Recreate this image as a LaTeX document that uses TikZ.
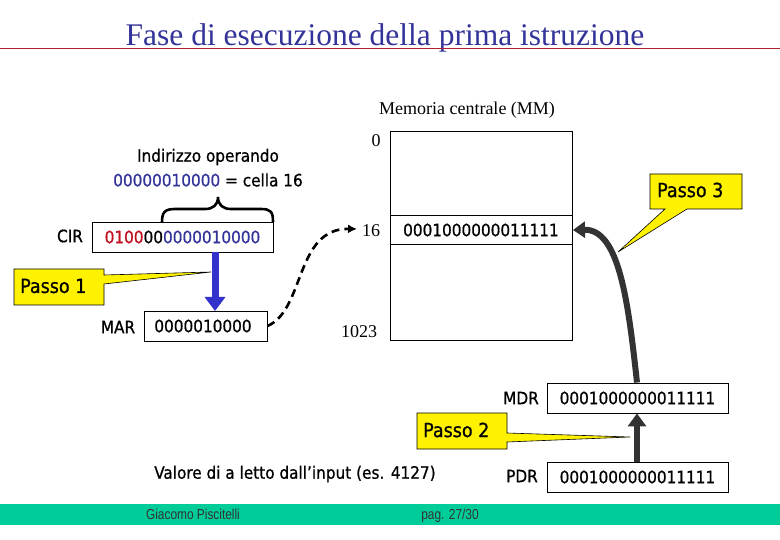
\documentclass[tikz,border=0pt]{standalone}
\usepackage{fontspec}
\setmainfont{Liberation Serif}
\newfontfamily\tah[FakeBold=0.8]{DejaVu Sans Condensed}
\newfontfamily\narrowf[FakeStretch=0.82]{Liberation Sans}
\usetikzlibrary{arrows.meta}
\definecolor{ttlblue}{RGB}{51,51,153}
\definecolor{digblue}{RGB}{51,51,153}
\definecolor{digred}{RGB}{192,16,32}
\definecolor{arrblue}{RGB}{51,51,204}
\definecolor{darkg}{RGB}{51,51,51}
\definecolor{footg}{RGB}{0,204,153}
\definecolor{linered}{RGB}{178,34,52}
\begin{document}
\begin{tikzpicture}[x=1pt,y=-1pt,
  sans/.style={font=\tah\fontsize{17}{20}\selectfont, inner sep=0},
  big/.style={font=\tah\fontsize{19.5}{22}\selectfont, inner sep=0, anchor=west},
  serif/.style={font=\fontsize{18}{21}\selectfont, inner sep=0},
  regbox/.style={draw, line width=0.9pt, minimum width=181pt, minimum height=30pt, inner sep=0, sans},
  callout/.style={fill=yellow, draw=black, line width=0.6pt},
  foot/.style={font=\narrowf\fontsize{14.5}{16}\selectfont, inner sep=0, text=darkg, anchor=base},
]
\useasboundingbox (0,0) rectangle (780,540);
% title
\node[anchor=base, font=\fontsize{31.5}{36}\selectfont, text=ttlblue, inner sep=0] (title) at (385,46) {Fase di esecuzione della prima istruzione};
\draw[linered, line width=0.9pt] (0,48) -- (780,48);

% memory
\node[serif] (mmlabel) at (467,110) {Memoria centrale (MM)};
\draw[line width=0.9pt] (390,131) rectangle (572,340);
\draw[line width=0.9pt] (390,215) -- (572,215);
\draw[line width=0.9pt] (390,244) -- (572,244);
\node[sans] (cell) at (481,230) {0001000000011111};
\node[serif] (m0) at (376,141) {0};
\node[serif] (m16) at (371,231) {16};
\node[serif] (m1023) at (359,332) {1023};

% operand address text
\node[sans] (ind1) at (208,157) {Indirizzo operando};
\node[sans] (ind2) at (208,180) {\textcolor{digblue}{00000010000} = cella 16};

% brace
\draw[line width=2.6pt] (162,222) .. controls (162,212) and (165,209) .. (175,209) -- (205,209)
  .. controls (213,209) and (218,205) .. (218,197)
  .. controls (218,205) and (223,209) .. (231,209) -- (261,209)
  .. controls (271,209) and (273,212) .. (273,222);

% CIR
\node[regbox] (cir) at (182.5,237) {\textcolor{digred}{0100}00\textcolor{digblue}{0000010000}};
\node[sans] (cirl) at (70,236) {CIR};

% MAR
\node[regbox, minimum width=123pt] (mar) at (205.5,326) {};
\node[sans] (mart) at (203,326) {0000010000};
\node[sans] (marl) at (118,327) {MAR};

% blue arrow CIR -> MAR
\coordinate (cirb) at (215,252);
\coordinate (mart0) at (215,311);
% Passo 1 callout
\draw[callout] (14,269) -- (104,269) -- (104,275) -- (211,272) -- (104,284) -- (104,305) -- (14,305) -- cycle;
\node[big] (p1) at (20,286) {Passo 1};
\draw[arrblue, line width=7pt, -{Triangle[length=14pt,width=20pt]}] (cirb) -- (mart0);

% dashed curve MAR -> 16
\coordinate (d16) at (357,229);
\draw[line width=2.6pt, dash pattern=on 8pt off 5pt, -{Latex[length=9pt,width=9pt]}] (mar.east) .. controls (305,310) and (295,228) .. (d16);

% MDR / PDR
\node[regbox] (mdr) at (637.5,398) {0001000000011111};
\node[sans] (mdrl) at (521,398) {MDR};
\node[regbox] (pdr) at (637.5,477) {0001000000011111};
\node[sans] (pdrl) at (522,476) {PDR};

% Passo 2 callout
\draw[callout] (417,413) -- (507,413) -- (507,433) -- (630,437) -- (507,442) -- (507,449) -- (417,449) -- cycle;
\node[big] (p2) at (423,430) {Passo 2};
\draw[darkg, line width=6pt, -{Triangle[length=13pt,width=18pt]}] (pdr.north -| 637,0) -- (mdr.south -| 637,0);

% Passo 3 callout
\draw[callout] (650,174) -- (742,174) -- (742,209) -- (687,209) -- (618,252) -- (665,209) -- (650,209) -- cycle;
\node[big] (p3) at (657,190) {Passo 3};
\coordinate (cellr) at (573,230);
\draw[darkg, line width=6pt, -{Triangle[length=12pt,width=16pt]}] (mdr.north -| 637,0) .. controls (628,300) and (619,229) .. (cellr);

% input text
\node[sans] (inp) at (295,474) {Valore di a letto dall’input (es. 4127)};

% footer
\fill[footg] (0,504) rectangle (780,525);
\node[foot] (f1) at (193,519) {Giacomo Piscitelli};
\node[foot] (f2) at (450,519) {pag. 27/30};
\end{tikzpicture}
\end{document}
